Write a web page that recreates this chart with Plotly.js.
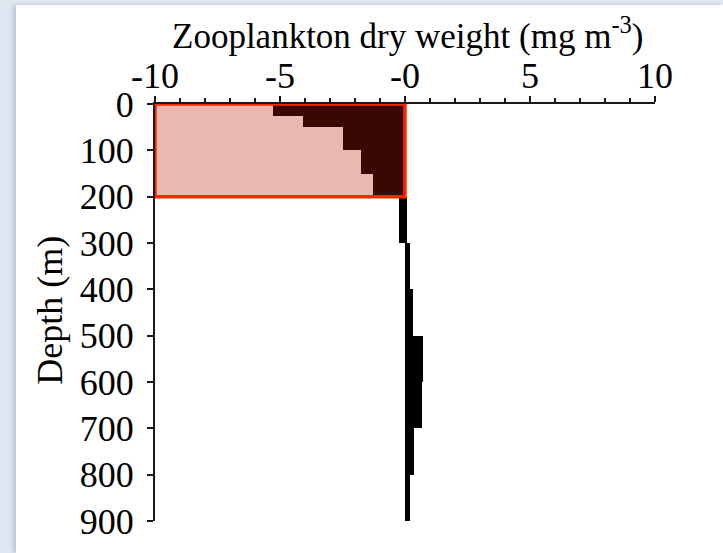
<!DOCTYPE html>
<html>
<head>
<meta charset="utf-8">
<script src="https://cdn.plot.ly/plotly-3.0.1.min.js"></script>
<style>
  html, body { margin: 0; padding: 0; background: #e1e8f2; }
  #wrap { position: relative; width: 723px; height: 553px; overflow: hidden; }
  #panel { position: absolute; left: 16px; top: 5px; width: 707px; height: 548px; background: #ffffff;
           box-shadow: -3px 0 5px rgba(120,130,150,0.35); }
  #chart { position: absolute; left: 0; top: 0; width: 723px; height: 553px; }
</style>
</head>
<body>
<div id="wrap">
  <div id="panel"></div>
  <div id="chart"></div>
</div>
<script>
// Depth bins (m)
const depthTop    = [0, 25, 50, 100, 150, 200, 300, 400, 500, 600, 700, 800];
const depthBottom = [25, 50, 100, 150, 200, 300, 400, 500, 600, 700, 800, 900];
// Zooplankton dry weight (mg m-3): left-hand (negative) and right-hand (positive) bars
const leftValues  = [-5.3, -4.1, -2.5, -1.75, -1.3, -0.24, 0, 0, 0, 0, 0, 0];
const rightValues = [0, 0, 0, 0, 0, 0.09, 0.2, 0.33, 0.7, 0.66, 0.37, 0.2];
// Axis ticks
const xTickVals = [-10, -5, 0, 5, 10];
const xTickText = ['-10', '-5', '-0', '5', '10'];
const yTickVals = [0, 100, 200, 300, 400, 500, 600, 700, 800, 900];
// Highlighted surface layer
const boxX = [-10, 0];
const boxDepth = [0, 200];
// Titles
const xTitle = 'Zooplankton dry weight (mg m<sup>-3</sup>)';
const yTitle = 'Depth (m)';

const mids = depthTop.map((t, i) => (t + depthBottom[i]) / 2);
const widths = depthTop.map((t, i) => depthBottom[i] - t);
const barColors = depthBottom.map(d => d <= boxDepth[1] ? '#3a0803' : '#000000');

const font = 'Liberation Serif, Times New Roman, serif';

const traces = [
  { type: 'bar', orientation: 'h', x: leftValues, y: mids, width: widths, base: 0,
    marker: { color: barColors, line: { width: 0 } }, hoverinfo: 'x+y', showlegend: false },
  { type: 'bar', orientation: 'h', x: rightValues, y: mids, width: widths, base: 0,
    marker: { color: barColors, line: { width: 0 } }, hoverinfo: 'x+y', showlegend: false }
];

const axisCommon = {
  showgrid: false, zeroline: false, showline: true, linecolor: '#1a1a1a', linewidth: 2,
  ticks: 'outside', tickcolor: '#1a1a1a', tickwidth: 2,
  tickfont: { family: font, size: 36, color: '#000' }
};

const layout = {
  width: 723, height: 553,
  margin: { l: 155, r: 68, t: 104, b: 32 },
  paper_bgcolor: 'rgba(0,0,0,0)', plot_bgcolor: 'rgba(0,0,0,0)',
  barmode: 'overlay', bargap: 0,
  xaxis: Object.assign({}, axisCommon, {
    side: 'top', range: [-10, 10], tickmode: 'array', tickvals: xTickVals, ticktext: xTickText,
    ticklen: 6, ticklabelstandoff: -6,
    minor: { dtick: 1, ticks: 'outside', ticklen: 4, tickwidth: 1.5, tickcolor: '#1a1a1a' }
  }),
  yaxis: Object.assign({}, axisCommon, {
    range: [900, 0], tickmode: 'array', tickvals: yTickVals, ticklen: 6, ticklabelstandoff: 6
  }),
  annotations: [
    { text: xTitle, xref: 'paper', yref: 'paper', x: 0.504, y: 1.17, xanchor: 'center', yanchor: 'middle',
      showarrow: false, font: { family: font, size: 35, color: '#000' } },
    { text: yTitle, xref: 'paper', yref: 'paper', x: -0.21, y: 0.504, xanchor: 'center', yanchor: 'middle',
      textangle: -90, showarrow: false, font: { family: font, size: 36, color: '#000' } }
  ],
  shapes: [
    { type: 'rect', xref: 'x', yref: 'y', x0: boxX[0], x1: boxX[1], y0: boxDepth[0], y1: boxDepth[1],
      fillcolor: '#e9b9b0', line: { width: 0 }, layer: 'below' },
    { type: 'rect', xref: 'x', yref: 'y', x0: boxX[0], x1: boxX[1], y0: boxDepth[0], y1: boxDepth[1],
      fillcolor: 'rgba(0,0,0,0)', line: { color: '#ff2600', width: 3.5 }, layer: 'above' }
  ]
};

Plotly.newPlot('chart', traces, layout, { staticPlot: true, displayModeBar: false });
</script>
</body>
</html>
